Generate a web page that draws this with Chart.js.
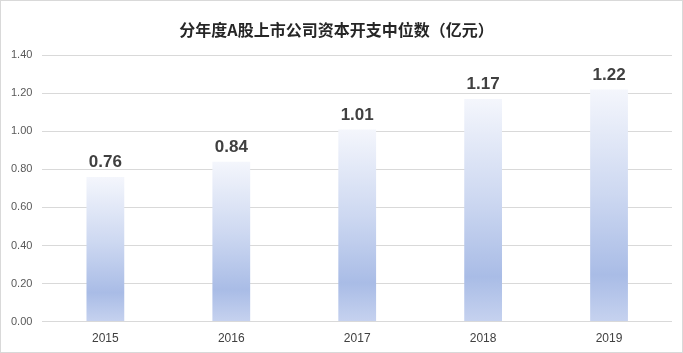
<!DOCTYPE html>
<html><head><meta charset="utf-8">
<script src="https://cdn.jsdelivr.net/npm/chart.js@4"></script>
<style>
html,body{margin:0;padding:0;background:#fff}
#w{position:relative;width:681px;height:351px;border:1px solid #d9d9d9}
</style></head>
<body><div id="w"><canvas id="c" width="681" height="351"></canvas></div>
<script>
const years=['2015','2016','2017','2018','2019'];
const medians=[0.76,0.84,1.01,1.17,1.22];
const yTicks=[0,0.2,0.4,0.6,0.8,1.0,1.2,1.4];

function grad(ctx){
 var ch=ctx.chart,a=ch.chartArea;if(!a)return '#b4c4e9';
 var v=ctx.raw,top=ch.scales.y.getPixelForValue(v),bot=ch.scales.y.getPixelForValue(0);
 var g=ch.ctx.createLinearGradient(0,top,0,bot);
 g.addColorStop(0,'#f4f6fc');g.addColorStop(0.45,'#cdd8f1');
 g.addColorStop(0.8,'#a9bce6');g.addColorStop(1,'#c6d2ef');
 return g
}
const lbl={id:'lbl',afterDatasetsDraw(ch){
 var c=ch.ctx,m=ch.getDatasetMeta(0);
 c.save();c.font='bold 17px Arial, "Liberation Sans", sans-serif';c.fillStyle='#404040';
 c.textAlign='center';c.textBaseline='bottom';
 m.data.forEach(function(b,i){c.fillText(medians[i].toFixed(2),b.x,b.y-6)});
 c.restore()
}};
new Chart(document.getElementById('c'),{
 type:'bar',
 data:{labels:years,datasets:[{data:medians,backgroundColor:grad,borderWidth:0,
  categoryPercentage:1,barPercentage:0.3}]},
 options:{responsive:false,animation:false,
  layout:{padding:{left:0,right:10,top:11,bottom:4}},
  plugins:{legend:{display:false},tooltip:{enabled:false},
   title:{display:true,text:'分年度A股上市公司资本开支中位数（亿元）',color:'#262626',
    font:{size:16,weight:'bold',family:'"Noto Sans CJK SC", sans-serif'},padding:{top:8,bottom:16}}},
  scales:{
   x:{grid:{display:false},border:{display:false},
    ticks:{color:'#404040',font:{size:12,family:'Arial, "Liberation Sans", sans-serif'},padding:2}},
   y:{min:0,max:1.4,afterBuildTicks:function(s){s.ticks=yTicks.map(function(v){return{value:v}})},
    grid:{color:'#d9d9d9',drawTicks:false},border:{display:false},
    ticks:{color:'#595959',padding:10,font:{size:11,family:'Arial, "Liberation Sans", sans-serif'},
     callback:function(v){return v.toFixed(2)}}}
  }
 },
 plugins:[lbl]
});
</script></body></html>
